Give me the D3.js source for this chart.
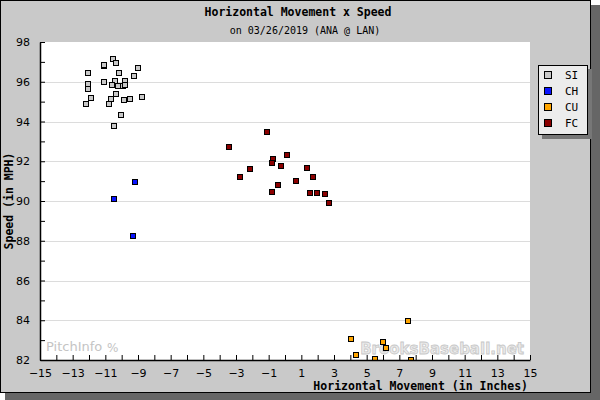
<!DOCTYPE html>
<html>
<head>
<meta charset="utf-8">
<script src="https://cdn.jsdelivr.net/npm/d3@7"></script>
<style>
  body { margin: 0; padding: 0; background: #fff; }
  svg { display: block; }
</style>
</head>
<body>
<svg id="chart"></svg>
<script>
const width = 600;
const height = 400;

// data
const pitch_types = ["SI", "CH", "CU", "FC"];
const pitch_colors = ["#c8c8c8", "#0a14ff", "#ffa500", "#8b0000"];

const si_x = [-10.52, -10.33, -11.10, -11.07, -8.99, -12.08, -10.15, -9.23, -11.07, -10.39, -9.78, -12.08, -10.58,
              -10.21, -9.92, -9.78, -12.05, -10.33, -11.86, -10.64, -9.48, -9.84, -8.74, -12.17, -10.76, -10.03, -10.46];
const si_y = [97.13, 96.93, 96.79, 96.83, 96.68, 96.42, 96.42, 96.27, 95.97, 96.02, 96.02, 95.87, 95.83,
              95.77, 95.77, 95.82, 95.62, 95.37, 95.16, 95.11, 95.11, 95.06, 95.21, 94.86, 94.86, 94.31, 93.75];
const ch_x = [-9.17, -10.46, -9.29];
const ch_y = [90.98, 90.08, 88.26];
const cu_x = [4.04, 7.53, 6.00, 6.18, 4.35, 5.51, 7.71];
const cu_y = [83.07, 83.98, 82.92, 82.62, 82.27, 82.07, 82.02];
const fc_x = [-1.10, -3.42, 0.13, -0.73, -0.79, -0.24, -2.14, 1.35, -2.75, 1.72, 0.68, -0.42, -0.79, 1.53, 1.96, 2.45, 2.69];
const fc_y = [93.45, 92.70, 92.29, 92.09, 91.89, 91.74, 91.59, 91.64, 91.23, 91.23, 91.03, 90.83, 90.43, 90.38, 90.38, 90.33, 89.92];

const x_ticks = d3.range(-15, 16, 2);
const y_ticks = d3.range(82, 99, 2);

const title = "Horizontal Movement x Speed";
const subtitle = "on 03/26/2019 (ANA @ LAN)";

const mono = "'DejaVu Sans Mono', monospace";
const sans = "'DejaVu Sans', Verdana, sans-serif";

const plot = {left: 40, right: 530, top: 42, bottom: 360};

var x = d3.scaleLinear().domain([-15, 15]).range([plot.left, plot.right]);
var y = d3.scaleLinear().domain([82, 98]).range([plot.bottom, plot.top]);

var svg = d3.select("#chart")
    .attr("width", width)
    .attr("height", height);

// frame + shadow
svg.append("rect").attr("x", 5).attr("y", 5).attr("width", width - 5).attr("height", height - 5).attr("fill", "#666");
svg.append("rect").attr("x", 0.5).attr("y", 0.5).attr("width", 590).attr("height", 392)
    .attr("fill", "#c9c9c9").attr("stroke", "#000");

// plot area
svg.append("rect")
    .attr("x", plot.left).attr("y", plot.top)
    .attr("width", plot.right - plot.left).attr("height", plot.bottom - plot.top)
    .attr("fill", "#fff");

svg.append("defs").append("clipPath").attr("id", "clip")
    .append("rect")
    .attr("x", plot.left).attr("y", plot.top)
    .attr("width", plot.right - plot.left).attr("height", plot.bottom - plot.top);

// grid
svg.append("g")
    .selectAll("line")
    .data(y_ticks.filter(d => d > 82 && d < 98))
    .enter()
    .append("line")
    .attr("x1", plot.left).attr("x2", plot.right)
    .attr("y1", d => Math.round(y(d)) + 0.5).attr("y2", d => Math.round(y(d)) + 0.5)
    .attr("stroke", "#dcdcdc");

// watermarks
svg.append("text")
    .attr("x", 46).attr("y", 351)
    .attr("font-family", sans).attr("font-size", 13)
    .attr("fill", "#c4c4c4")
    .text("PitchInfo");
svg.append("text")
    .attr("x", 107).attr("y", 352)
    .attr("font-family", sans).attr("font-size", 12)
    .attr("fill", "#c4c4c4")
    .text("%");
svg.append("text")
    .attr("x", 524).attr("y", 354)
    .attr("text-anchor", "end")
    .attr("font-family", sans).attr("font-size", 15).attr("font-weight", "bold")
    .attr("fill", "#eaeaea").attr("stroke", "#c8c8c8").attr("stroke-width", 0.8)
    .text("BrooksBaseball.net");

// points
var series = [
    {type: "SI", xs: si_x, ys: si_y},
    {type: "CH", xs: ch_x, ys: ch_y},
    {type: "CU", xs: cu_x, ys: cu_y},
    {type: "FC", xs: fc_x, ys: fc_y}
];
var color = d3.scaleOrdinal().domain(pitch_types).range(pitch_colors);

var points = svg.append("g").attr("clip-path", "url(#clip)");
series.forEach(function (s) {
    points.selectAll(".p-" + s.type)
        .data(s.xs.map((v, i) => [v, s.ys[i]]))
        .enter()
        .append("rect")
        .attr("class", "p-" + s.type)
        .attr("x", d => Math.round(x(d[0])) - 2.5)
        .attr("y", d => Math.round(y(d[1])) - 2.5)
        .attr("width", 5).attr("height", 5)
        .attr("fill", color(s.type))
        .attr("stroke", "#000")
        .attr("stroke-width", 1);
});

// axes
var xAxis = d3.axisBottom(x).tickValues(d3.range(-15, 16, 1)).tickSizeInner(-5).tickSizeOuter(0)
    .tickFormat(d => x_ticks.includes(d) ? String(d).replace("-", "\u2212") : "");
var gx = svg.append("g")
    .attr("transform", `translate(0,${plot.bottom})`)
    .call(xAxis);
gx.select(".domain").attr("stroke", "#000").attr("stroke-width", 1.5);
gx.selectAll(".tick text").attr("font-family", sans).attr("font-size", 11).attr("fill", "#000").attr("dy", "1.3em");

var yAxis = d3.axisLeft(y).tickValues(d3.range(82, 99, 1)).tickSizeInner(-5).tickSizeOuter(0)
    .tickFormat(d => y_ticks.includes(d) ? d : "");
var gy = svg.append("g")
    .attr("transform", `translate(${plot.left},0)`)
    .call(yAxis);
gy.select(".domain").attr("stroke", "#000").attr("stroke-width", 1.5);
gy.selectAll(".tick text").attr("font-family", sans).attr("font-size", 11).attr("fill", "#000").attr("x", -10);

// titles
svg.append("text")
    .attr("x", 298).attr("y", 16)
    .attr("text-anchor", "middle")
    .attr("font-family", mono).attr("font-size", 11.5).attr("font-weight", "bold")
    .text(title);
svg.append("text")
    .attr("x", 305).attr("y", 34)
    .attr("text-anchor", "middle")
    .attr("font-family", mono).attr("font-size", 10)
    .text(subtitle);
svg.append("text")
    .attr("x", 528).attr("y", 390)
    .attr("text-anchor", "end")
    .attr("font-family", mono).attr("font-size", 11.5).attr("font-weight", "bold")
    .text("Horizontal Movement (in Inches)");
svg.append("text")
    .attr("transform", "translate(13,201) rotate(-90)")
    .attr("text-anchor", "middle")
    .attr("font-family", mono).attr("font-size", 11.5).attr("font-weight", "bold")
    .text("Speed (in MPH)");

// legend
var legend = svg.append("g").attr("transform", "translate(538,65)");
legend.append("rect").attr("x", 4).attr("y", 4).attr("width", 50).attr("height", 70).attr("fill", "#777");
legend.append("rect").attr("x", 0.5).attr("y", 0.5).attr("width", 49).attr("height", 69)
    .attr("fill", "#ececec").attr("stroke", "#000");
var rows = legend.selectAll(".row")
    .data(pitch_types)
    .enter()
    .append("g")
    .attr("class", "row")
    .attr("transform", (d, i) => `translate(0,${10 + i * 16})`);
rows.append("rect")
    .attr("x", 6.5).attr("y", -3.5).attr("width", 7).attr("height", 7)
    .attr("fill", d => color(d)).attr("stroke", "#000");
rows.append("text")
    .attr("x", 27).attr("y", 4)
    .attr("font-family", mono).attr("font-size", 11)
    .text(d => d);
</script>
</body>
</html>
